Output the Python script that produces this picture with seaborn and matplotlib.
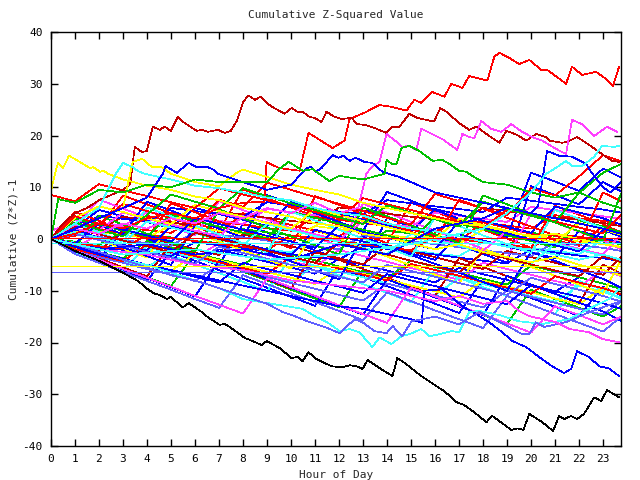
import matplotlib
matplotlib.use("Agg")
import matplotlib.pyplot as plt
import seaborn as sns

sns.set_style("white")
plt.rcParams['font.family'] = ['DejaVu Sans Mono', 'DejaVu Sans']

RED = '#ff0000'; GRN = '#00c000'; BLU = '#0000ff'; MAG = '#ff40ff'; CYN = '#40ffff'
DRD = '#c00000'; YEL = '#ffff00'; SLB = '#6060ff'; BLK = '#000000'

hours = list(range(24)) + [23.75]
x_ticks = list(range(24))
y_ticks = [-40, -30, -20, -10, 0, 10, 20, 30, 40]

# ---- tangle series, slow movers (hourly readings) ----
a1 = [0, 0.6, 2.8, 2.3, 1.7, 1.2, 3.9, 3.3, 2.8, 2.1, 1.6, 4.2, 3.7, 3.1, 2.5, 1.9, 1.4, 3.8, 3.2, 2.6, 2.0, 4.6, 4.0, 3.5, 2.9]
a2 = [0, -0.5, -1.1, 1.4, 0.9, 0.3, -0.3, -0.8, 1.9, 1.3, 0.7, 0.2, -0.4, -1.0, 1.6, 1.1, 0.5, -0.1, -0.6, -1.2, 1.2, 0.6, 0.1, -0.5, -1.0]
a3 = [1.5, 3.7, 3.1, 2.5, 5.2, 4.6, 4.0, 3.5, 2.9, 5.8, 5.2, 4.6, 4.1, 3.5, 2.9, 2.4, 5.1, 4.5, 3.9, 3.3, 6.2, 5.6, 5.0, 4.4, 3.9]
a4 = [0, -0.7, -1.3, -1.9, -2.4, 0.3, -0.3, -0.9, -1.4, -2.0, -2.6, 0.1, -0.5, -1.1, -1.6, -2.2, -2.8, -3.3, -0.6, -1.2, -1.7, -2.3, -2.9, -0.2, -0.8]
a5 = [0, 2.4, 1.8, 4.3, 3.7, 3.2, 2.6, 5.3, 4.7, 4.1, 3.5, 3.0, 6.1, 5.5, 4.9, 4.3, 3.8, 3.2, 6.0, 5.4, 4.8, 4.2, 3.7, 3.1, 2.5]
a6 = [0, 1.9, 1.4, 0.8, 0.2, 2.7, 2.1, 1.6, 1.0, 0.4, -0.1, 2.5, 1.9, 1.3, 0.8, 0.2, -0.4, -0.9, 1.8, 1.2, 0.7, 0.1, -0.5, -1.0, -1.6]
a7 = [0, -1.0, -1.6, -2.1, -2.7, -3.3, -0.6, -1.2, -1.8, -2.3, -2.9, -3.5, -4.0, -1.3, -1.9, -2.5, -3.0, -3.6, -4.2, -4.7, -2.0, -2.6, -3.2, -3.7, -4.3]
a8 = [0, 0.9, 0.4, -0.2, -0.8, -1.3, 1.4, 0.8, 0.3, -0.3, -0.9, -1.4, -2.0, 0.7, 0.1, -0.5, -1.0, -1.6, -2.2, -2.7, -3.3, -0.6, -1.2, -1.7, -2.3]
a9 = [0, -0.8, -1.4, -1.9, 0.8, 0.2, -0.4, -0.9, -1.5, -2.1, 0.7, 0.1, -0.5, -1.0, -1.6, -2.2, 0.6, 0.0, -0.6, -1.1, -1.7, 1.0, 0.4, -0.1, -0.7]
a10 = [0, 1.8, 4.5, 3.9, 3.3, 6.0, 5.4, 4.9, 4.3, 7.1, 6.5, 5.9, 5.3, 4.8, 7.5, 6.9, 6.3, 5.8, 5.2, 8.0, 7.4, 6.8, 6.2, 5.7, 5.1]

# ---- tangle series, medium movers ----
b1 = [0, -1.9, -3.0, -1.2, -2.4, -3.5, -4.7, -2.0, -3.2, -4.4, -5.5, -6.7, -3.8, -5.0, -6.1, -7.3, -8.4, -5.6, -6.8, -7.9, -9.1, -10.2, -7.4, -8.6, -9.7]
b2 = [0, 3.1, 2.0, 0.8, 4.5, 3.4, 2.2, 1.1, 5.0, 3.9, 2.7, 1.6, 0.4, 4.1, 3.0, 1.8, 0.7, -0.5, 3.3, 2.1, 1.0, -0.2, -1.3, 2.5, 1.4]
b3 = [0, -1.4, -2.6, -3.7, -0.4, -1.6, -2.7, -3.9, -5.0, -1.8, -3.0, -4.1, -5.3, -6.4, -7.6, -4.2, -5.4, -6.5, -7.7, -8.8, -5.1, -6.3, -7.4, -8.6, -9.7]
b4 = [0, 2.2, 5.6, 4.4, 3.3, 2.1, 6.0, 4.8, 3.7, 2.5, 7.2, 6.0, 4.9, 3.7, 2.6, 1.4, 5.8, 4.7, 3.5, 2.4, 1.2, 6.3, 5.1, 4.0, 2.8]
b5 = [0, -1.7, 0.9, -0.3, -1.4, -2.6, -3.7, -0.8, -2.0, -3.1, -4.3, -5.4, -2.1, -3.3, -4.4, -5.6, -6.7, -7.9, -4.6, -5.8, -6.9, -8.1, -9.2, -6.0, -7.2]
b6 = [0, -2.1, -3.2, -4.4, -5.5, -2.5, -3.7, -4.8, -6.0, -7.1, -8.3, -5.1, -6.3, -7.4, -8.6, -9.7, -10.9, -7.5, -8.7, -9.8, -11.0, -12.1, -9.0, -10.2, -11.3]
b7 = [0, -1.1, -2.3, 1.5, 0.3, -0.8, -2.0, -3.1, 0.9, -0.3, -1.4, -2.6, -3.7, -4.9, -1.2, -2.4, -3.5, -4.7, -5.8, -2.3, -3.5, -4.6, -5.8, -6.9, -3.5]
b8 = [0, -1.6, -2.8, -3.9, -5.1, -6.2, -2.9, -4.1, -5.2, -6.4, -7.5, -8.7, -5.5, -6.7, -7.8, -9.0, -10.1, -11.3, -8.0, -9.2, -10.3, -11.5, -12.6, -9.4, -10.6]
b9 = [0, -2.3, -3.5, -4.6, -5.8, -6.9, -8.1, -5.0, -6.2, -7.3, -8.5, -9.6, -10.8, -11.9, -8.6, -9.8, -10.9, -12.1, -13.2, -10.0, -11.2, -12.3, -13.5, -14.6, -12.1]
b10 = [0, 1.2, 0.1, -1.1, -2.2, 2.6, 1.4, 0.3, -0.9, -2.0, -3.2, 1.8, 0.6, -0.5, -1.7, -2.8, -4.0, 0.9, -0.3, -1.4, -2.6, -3.7, 1.5, 0.3, -0.8]
b11 = [0, -2.0, -3.1, -4.3, -1.0, -2.2, -3.3, -4.5, -5.6, -6.8, -3.4, -4.6, -5.7, -6.9, -8.0, -4.8, -6.0, -7.1, -8.3, -9.4, -10.6, -7.2, -8.4, -9.5, -10.7]
b12 = [0, 3.9, 2.8, 1.6, 0.5, 4.7, 3.5, 2.4, 1.2, 0.1, 5.3, 4.1, 3.0, 1.8, 0.7, -0.5, 4.2, 3.0, 1.9, 0.7, -0.4, -1.6, 3.6, 2.4, 1.3]
b13 = [0, -1.5, -2.7, -3.8, -5.0, -6.1, -7.3, -8.4, -4.6, -5.8, -6.9, -8.1, -9.2, -10.4, -6.8, -8.0, -9.1, -10.3, -11.4, -12.6, -8.9, -10.1, -11.2, -12.4, -13.5]
b14 = [0, 2.8, 1.7, 5.1, 3.9, 2.8, 1.6, 0.5, 4.4, 3.2, 2.1, 0.9, -0.2, 3.5, 2.3, 1.2, 0.0, -1.1, -2.3, 1.6, 0.4, -0.7, -1.9, -3.0, 0.8]
b15 = [0, 1.3, 0.2, -0.9, 3.4, 2.2, 1.1, -0.1, -1.2, 2.9, 1.7, 0.6, -0.6, -1.7, -2.9, 1.0, -0.2, -1.3, -2.5, -3.6, -4.8, -0.9, -2.1, -3.2, -4.4]
b16 = [0, -0.9, 3.0, 1.8, 0.7, -0.5, 4.1, 2.9, 1.8, 0.6, -0.5, -1.7, 2.6, 1.4, 0.3, -0.9, -2.0, 3.4, 2.2, 1.1, -0.1, -1.2, -2.4, 1.7, 0.5]
b17 = [0, 2.0, 0.9, -0.3, -1.4, -2.6, 1.2, 0.0, -1.1, -2.3, -3.4, -4.6, -0.7, -1.9, -3.0, -4.2, -5.3, -6.5, -2.6, -3.8, -4.9, -6.1, -7.2, -3.3, -4.5]
b18 = [0, 4.1, 6.3, 5.2, 4.0, 2.9, 6.6, 5.4, 4.3, 3.1, 2.0, 5.8, 4.6, 3.5, 2.3, 1.2, 0.0, 3.9, 2.7, 1.6, 0.4, -0.7, 3.1, 1.9, 0.8]
b19 = [0, 1.0, -0.2, -1.3, -2.5, -3.6, -4.8, -1.5, -2.7, -3.8, -5.0, -6.1, -7.3, -8.4, -5.0, -6.2, -7.3, -8.5, -9.6, -10.8, -7.5, -8.7, -9.8, -11.0, -12.1]
b20 = [8.5, 7.3, 10.6, 9.4, 8.3, 7.1, 6.0, 9.8, 8.6, 7.5, 6.3, 5.2, 4.0, 7.9, 6.7, 5.6, 4.4, 3.3, 2.1, 5.7, 4.5, 3.4, 2.2, 1.1, 4.6]

# ---- tangle series, fast movers ----
c1 = [0, -2.6, -4.2, 1.8, 0.1, -1.7, -3.4, -5.1, 3.0, 1.3, -0.4, -2.2, -3.9, -5.6, 4.1, 2.4, 0.6, -1.1, -2.9, -4.6, 10.2, 8.5, 6.7, 11.0, 9.2]
c2 = [0, -2.2, -3.9, -5.7, -7.4, -9.1, -2.8, -4.6, -6.3, -8.0, -9.8, -11.5, -13.2, -6.0, -7.7, -9.5, -11.2, -12.9, -14.7, -16.4, -9.8, -11.6, -13.3, -15.0, -13.0]
c3 = [0, 3.8, 2.1, 8.4, 6.7, 5.0, 3.2, 1.5, 9.6, 7.9, 6.1, 4.4, 2.7, 0.9, -0.8, 7.0, 5.3, 3.5, 1.8, 0.1, -1.7, 6.4, 4.7, 2.9, 1.2]
c4 = [0, -2.8, -4.5, -6.3, -8.0, -2.5, -4.2, -6.0, -7.7, -9.4, -11.2, -12.9, -5.6, -7.3, -9.1, -10.8, -12.5, -14.3, -7.9, -9.7, -11.4, -13.1, -14.9, -9.2, -10.9]
c5 = [0, 2.5, 7.6, 5.9, 4.1, 2.4, 0.7, 7.3, 5.6, 3.8, 2.1, 0.4, -1.4, 6.8, 5.1, 3.3, 1.6, -0.1, -1.9, -3.6, 4.9, 3.2, 1.4, -0.3, -2.0]
c6 = [0, -2.5, -4.3, -6.0, -1.4, -3.1, -4.9, -6.6, -8.3, -10.1, -3.5, -5.2, -7.0, -8.7, -10.4, -12.2, -5.8, -7.5, -9.3, -11.0, -12.7, -14.5, -8.1, -9.8, -11.6]
c7 = [0, 4.4, 2.7, 0.9, 7.2, 5.5, 3.7, 2.0, 0.3, 8.5, 6.8, 5.0, 3.3, 1.6, 9.1, 7.4, 5.6, 3.9, 2.2, 0.4, 12.8, 11.1, 9.3, 13.6, 11.9]
c8 = [0, -2.0, -3.7, -5.5, -7.2, -0.9, -2.6, -4.4, -6.1, -7.8, -9.6, -2.3, -4.0, -5.8, -7.5, -9.2, -11.0, -3.7, -5.4, -7.2, -8.9, -10.6, -12.4, -4.9, -6.7]
c9 = [0, 1.6, -0.1, -1.9, -3.6, 3.0, 1.3, -0.5, -2.2, -3.9, -5.7, 1.8, 0.1, -1.7, -3.4, -5.1, -6.9, -8.6, -1.9, -3.6, -5.4, -7.1, -8.8, -10.6, -4.0]
c10 = [0, -2.4, -4.1, -5.9, -7.6, -9.3, -11.1, -4.2, -5.9, -7.7, -9.4, -11.1, -12.9, -14.6, -7.8, -9.5, -11.3, -13.0, -14.7, -7.1, -8.8, -10.6, -12.3, -14.0, -15.8]
c11 = [0, 5.2, 3.5, 1.7, 0.0, 6.9, 5.2, 3.4, 1.7, 0.0, -1.8, 8.3, 6.6, 4.8, 3.1, 1.4, -0.4, 7.6, 5.9, 4.1, 2.4, 0.7, -1.1, 9.0, 7.3]
c12 = [0, -1.6, 4.5, 2.8, 1.0, -0.7, -2.4, 5.7, 4.0, 2.2, 0.5, -1.2, -3.0, 6.1, 4.4, 2.6, 0.9, -0.8, 8.4, 6.7, 4.9, 3.2, 1.5, -0.3, 8.8]
c13 = [0, -2.9, -4.6, -6.4, -8.1, -9.8, -11.6, -13.3, -7.0, -8.7, -10.5, -12.2, -13.9, -15.7, -10.3, -12.0, -13.8, -15.5, -17.2, -11.0, -12.7, -14.5, -16.2, -17.9, -15.0]
c14 = [0, 1.9, 0.2, -1.6, -3.3, -5.0, 2.6, 0.9, -0.9, -2.6, -4.3, -6.1, -7.8, 0.4, -1.3, -3.1, -4.8, -6.5, -8.3, -10.0, -2.5, -4.2, -6.0, -7.7, -9.4]
c15 = [0, -2.3, -4.0, -5.8, -7.5, -9.2, -11.0, -12.7, -14.4, -7.6, -9.3, -11.0, -12.8, -14.5, -16.2, -9.4, -11.1, -12.9, -14.6, -16.3, -18.1, -13.0, -14.7, -16.5, -15.0]
c16 = [0, 3.0, 1.3, -0.5, 6.1, 4.4, 2.6, 0.9, -0.8, -2.6, 5.3, 3.6, 1.8, 0.1, -1.6, -3.4, 4.2, 2.5, 0.7, -1.0, -2.7, 5.6, 3.9, 2.1, 0.4]

# ---- two series that climb at the right edge ----
e1 = [0, 4.4, 2.9, 6.8, 5.4, 4.0, 2.7, 7.6, 6.2, 10.9, 9.5, 8.1, 6.8, 5.4, 4.1, 2.8, 8.7, 7.3, 5.9, 4.6, 9.8, 8.4, 12.1, 16.2, 15.0]
e2 = [0, 3.2, 1.8, 0.5, 4.7, 8.6, 7.2, 5.9, 9.8, 8.3, 6.9, 5.6, 4.2, 2.9, 6.5, 5.1, 3.8, 2.4, 7.2, 5.8, 4.5, 3.2, 8.9, 12.8, 14.5]

tangle = [
    (c1, BLU), (a1, RED), (b1, BLU), (c2, GRN), (a2, GRN), (b2, RED), (c3, RED), (a3, MAG),
    (b3, GRN), (c4, BLU), (a4, CYN), (b4, BLU), (c5, MAG), (a5, DRD), (b5, MAG), (c6, CYN),
    (a6, YEL), (b6, CYN), (c7, BLU), (a7, BLU), (b7, DRD), (c8, DRD), (a8, SLB), (b8, YEL),
    (c9, YEL), (a9, RED), (b9, SLB), (c10, BLU), (a10, BLU), (b10, BLU), (c11, RED), (b11, RED),
    (c12, GRN), (b12, GRN), (c13, SLB), (b13, BLU), (c14, BLU), (b14, MAG), (c15, MAG), (b15, CYN),
    (c16, CYN), (b16, BLU), (b17, DRD), (b18, YEL), (b19, SLB), (b20, RED), (e1, RED), (e2, GRN),
]

# ---- distinct series (detailed readings) ----
red_top_x = [0, 1, 2, 3, 4, 5, 6, 7, 8, 8.9, 8.98, 9.5, 10.36, 10.73, 11.73, 12.23, 12.44, 13.06, 13.69, 14.23,
             14.81, 15.14, 15.43, 15.89, 16.39, 16.68, 17.14, 17.43, 18.18, 18.47, 18.68, 19.09, 19.51, 19.93,
             20.42, 20.67, 21.46, 21.71, 22.13, 22.71, 23.13, 23.42, 23.67]
red_top_y = [0, 1, 3, 2, 4, 5, 4, 6, 7, 7.2, 14.9, 13.7, 13.2, 20.5, 17.6, 19.0, 23.2, 24.4, 25.9, 25.5,
             24.8, 26.9, 26.3, 28.4, 27.5, 30.0, 29.2, 31.5, 30.6, 35.2, 36.0, 35.0, 33.8, 34.6,
             32.7, 32.7, 30.0, 33.3, 31.7, 32.3, 30.9, 29.6, 33.3]

drd_top_x = [0, 0.5, 1, 1.5, 2, 2.5, 3, 3.3, 3.49, 3.79, 3.99, 4.24, 4.53, 4.74, 4.99, 5.28, 5.57, 6.07, 6.28,
             6.53, 6.95, 7.24, 7.49, 7.74, 8.03, 8.24, 8.49, 8.74, 9.03, 9.23, 9.73, 10.02, 10.27, 10.48,
             10.77, 10.98, 11.27, 11.48, 11.81, 12.1, 12.52, 12.77, 13.14, 13.56, 13.98, 14.23, 14.52, 14.93,
             15.27, 15.85, 15.97, 16.22, 16.47, 17.01, 17.43, 17.72, 18.14, 18.68, 18.97, 19.43, 19.8, 20.22,
             20.63, 20.76, 21.3, 21.51, 21.92, 22.42, 22.96, 23.38, 23.67]
drd_top_y = [0, 3, 5, 6, 7.5, 8.5, 9.5, 10.6, 17.8, 16.8, 17.0, 21.7, 21.1, 21.7, 20.9, 23.6, 22.4, 20.9, 21.1,
             20.7, 21.1, 20.5, 20.9, 22.8, 26.7, 27.7, 26.9, 27.5, 26.1, 25.5, 24.2, 25.3, 24.6, 24.6,
             23.6, 23.4, 22.6, 24.6, 23.6, 23.2, 23.4, 22.2, 22.0, 21.3, 20.5, 21.7, 21.7, 24.2,
             23.4, 22.8, 22.8, 25.3, 24.6, 22.4, 21.1, 21.7, 20.3, 18.6, 20.9, 20.1, 19.0, 20.3,
             19.7, 19.0, 18.6, 18.8, 19.7, 18.2, 16.4, 15.1, 14.9]

mag_top_x = [0, 1, 2, 3, 4, 5, 6, 7, 8, 9, 10, 11, 12, 12.8, 13.14, 13.35, 13.69, 13.98, 14.39, 14.64, 14.93,
             15.22, 15.43, 16.31, 16.93, 17.14, 17.43, 17.64, 17.93, 18.34, 18.76, 19.18, 19.63, 20.05,
             20.47, 21.05, 21.46, 21.71, 22.13, 22.63, 23.17, 23.59]
mag_top_y = [0, 2, 1, 3, 2, 4, 3, 5, 4, 6, 5, 7, 5, 6, 12.6, 13.9, 14.9, 20.3, 18.8, 17.8, 18.0,
             17.2, 21.3, 19.3, 17.2, 20.3, 19.7, 19.5, 22.8, 21.3, 20.7, 22.2, 20.7, 19.7,
             19.0, 17.4, 16.4, 23.0, 22.2, 19.9, 21.7, 20.7]

blk_x = [0, 1.0, 2.04, 2.87, 3.62, 4.03, 4.33, 4.53, 4.83, 4.99, 5.49, 5.74, 6.28, 6.53, 7.03, 7.24, 7.45,
         8.07, 8.28, 8.78, 8.99, 9.53, 10.02, 10.27, 10.48, 10.73, 11.06, 11.69, 12.15, 12.44, 12.73, 12.98,
         13.19, 13.81, 14.23, 14.43, 14.81, 15.43, 16.18, 16.39, 16.89, 17.22, 17.64, 18.14, 18.39, 19.18,
         19.43, 19.68, 19.93, 20.47, 20.92, 21.17, 21.38, 21.67, 21.92, 22.21, 22.63, 22.92, 23.17, 23.38, 23.67]
blk_y = [0, -2.3, -4.3, -6.2, -8.1, -9.7, -10.6, -10.8, -11.6, -11.2, -13.2, -12.4, -14.1, -15.1, -16.6, -16.4, -17.0,
         -19.1, -19.5, -20.5, -19.7, -21.1, -23.0, -22.8, -23.6, -21.9, -23.2, -24.6, -24.8, -24.4, -24.6, -25.1,
         -23.4, -25.3, -26.5, -23.0, -24.2, -26.5, -28.8, -29.4, -31.5, -32.1, -33.5, -35.4, -34.2, -36.9,
         -36.6, -36.9, -33.8, -35.4, -37.1, -34.2, -34.8, -34.2, -34.8, -33.8, -30.6, -31.3, -29.2, -29.8, -30.6]

blu_low_x = [0, 1, 2, 3, 4, 5, 6, 7, 8, 9, 10, 11, 12, 13, 14, 15, 15.45, 15.55, 16.3, 17.14, 17.72, 18.26,
             18.8, 19.22, 19.8, 20.34, 20.88, 21.38, 21.67, 21.92, 22.42, 22.84, 23.25, 23.67]
blu_low_y = [0, -1.5, -3, -4, -5, -6, -7, -8, -9, -10, -11, -12, -13, -13.5, -14.5, -15.5, -16.2, -10, -9.7, -13.0,
             -14.5, -16.1, -18.0, -19.7, -20.9, -22.8, -24.6, -25.9, -25.1, -21.7, -22.8, -24.6, -25.0, -26.5]

cyn_low_x = [0, 1, 2, 3, 4, 5, 6, 7, 7.99, 10.48, 11.06, 11.52, 12.02, 12.44, 12.85, 13.39, 13.69, 14.18, 14.6,
             14.93, 15.43, 15.77, 16.18, 16.68, 17.01, 17.43, 17.85, 18.68, 19.5, 20.5, 21.6, 22.4, 23.25, 23.67]
cyn_low_y = [0, -1, -2.5, -4, -5, -6.5, -8, -9.5, -11.6, -13.5, -15.1, -16.1, -17.8, -17.4, -18.0, -20.9, -19.0,
             -20.3, -18.8, -18.4, -17.4, -18.8, -18.4, -17.8, -18.0, -14.1, -13.9, -14.7, -15.9, -16.4, -15.5,
             -13.5, -11.6, -9.7]

slb_low_x = [0, 1, 2, 3, 4, 5, 6, 7, 8, 9, 9.65, 10.15, 10.69, 11.52, 12.02, 12.65, 12.98, 13.48, 13.98, 14.23,
             14.64, 15.02, 16, 17, 17.85, 19.1, 19.63, 19.93, 20.2, 20.55, 21.5, 22.5, 23.75]
slb_low_y = [0, -1, -2.5, -4, -5.5, -7, -8, -9.5, -11, -12.5, -14.1, -14.9, -15.9, -17.2, -18.2, -15.5, -16.1,
             -17.8, -18.2, -16.8, -18.8, -15.9, -15, -16.5, -14.1, -17.0, -18.4, -18.4, -16.1, -17.0, -16, -14, -12]

mag_low_x = [0, 2, 4, 6, 8, 10, 12, 14, 16, 17, 18, 19, 19.5, 19.93, 21.05, 21.6, 22.4, 22.96, 23.38, 23.67]
mag_low_y = [0, -2, -3, -5, -6, -8, -9, -10, -12, -11, -12.5, -12, -13.9, -14.9, -16.1, -17.4, -18.0, -19.3, -19.7, -19.9]

yel_top_x = [0, 0.17, 0.29, 0.5, 0.75, 1.12, 1.62, 1.75, 2.04, 2.2, 2.37, 3, 4, 5, 6, 7, 8, 9, 10, 11, 12, 13,
             14, 15, 16, 17, 18, 19, 20, 21, 22, 23, 23.75]
yel_top_y = [9.3, 12.6, 14.7, 13.7, 16.1, 15.1, 13.7, 13.9, 13.0, 13.2, 12.6, 11.5, 10.3, 9.5, 8.2, 7.5, 6.0,
             5.2, 4.3, 3.0, 2.5, 1.0, 0.3, -0.8, -2, -1, -2.5, -3.5, -4.5, -3.5, -5, -6, -7]

yel_two_x = [0, 1, 2, 3, 3.4, 3.8, 4.2, 4.6, 5, 6, 7, 7.8, 8, 9, 10, 11, 12, 13, 14, 15, 16, 17, 18, 19, 20,
             21, 22, 23, 23.75]
yel_two_y = [0, 2, 4, 6, 14.9, 15.5, 13.9, 13.9, 12.6, 11.0, 10.2, 13.0, 13.4, 12, 10.5, 9.5, 8.6, 7, 6, 5, 4,
             3, 2.5, 1.5, 0.5, 1, 0, -1, -1.5]

cyn_top_x = [0, 1, 2, 2.7, 3.0, 3.4, 3.6, 3.9, 5, 6, 7, 8, 9, 10, 11, 12, 13, 14, 15, 16, 17, 18, 19, 20, 21,
             22, 23, 23.75]
cyn_top_y = [0, 3, 6, 12.6, 14.7, 13.9, 13.2, 12.6, 11.5, 10.3, 9.8, 9, 8, 7.5, 6, 5, 4.5, 3, 2, 1.5, 0.5,
             -0.5, -1.5, -2, -3, -4, -3, -4]

blu_top_x = [0, 1, 2, 3, 4, 4.66, 4.78, 5.24, 5.74, 6.07, 6.53, 6.82, 6.95, 8, 9, 10, 10.44, 10.65, 10.82,
             11.02, 11.27, 11.73, 11.98, 12.19, 12.44, 12.69, 13.06, 13.39, 13.81, 14.5, 15, 16, 17, 18, 19,
             20, 21, 22, 23, 23.75]
blu_top_y = [0, 2, 4, 6, 8, 12.6, 14.1, 12.8, 14.7, 13.9, 13.9, 13.3, 12.6, 11, 9.5, 10.5, 12.6, 13.7, 13.9,
             13.0, 13.7, 16.2, 15.7, 16.1, 15.1, 15.7, 14.9, 14.7, 13.0, 12, 11, 9, 8, 7, 6, 5, 4, 3, 2, 1]

blu_jump_x = [0, 2, 4, 6, 8, 10, 12, 14, 16, 18, 19, 20, 20.3, 20.67, 21.17, 21.7, 22.3, 22.5, 23.0, 23.3, 23.75]
blu_jump_y = [0, -2, -1, -3, -2, -4, -1, -3, 2, 4, 6, 5, 6.5, 17.0, 16.1, 15.9, 14.5, 13.0, 10, 9, 11]

grn_top_x = [0, 0.3, 1, 2, 3, 4, 5, 6, 7, 7.9, 9.0, 9.5, 9.9, 10.5, 10.9, 11.6, 12.0, 13.0, 13.9, 13.98, 14.2,
             14.4, 14.6, 14.93, 15.35, 15.9, 16.3, 16.6, 17.0, 17.3, 17.55, 18, 19, 20, 21, 22, 23, 23.75]
grn_top_y = [0, 7.7, 7, 9.5, 9, 10.5, 10, 11.5, 11, 11, 11, 13.5, 14.9, 13.2, 13.5, 11.2, 12.2, 11.5, 12.6,
             15.3, 14.5, 14.5, 17.6, 18.0, 17.0, 15.1, 15.3, 14.5, 13.2, 13.0, 12.2, 11, 10.5, 9, 8, 9, 7, 6]

cyn_right_x = [0, 3, 6, 9, 12, 15, 18, 19, 20, 20.63, 21.09, 21.46, 21.71, 22.13, 22.63, 22.96, 23.46, 23.67]
cyn_right_y = [0, -3, -2, -4, -3, -1, 2, 5, 9, 12.6, 13.9, 15.1, 14.1, 14.1, 15.9, 18.0, 17.8, 18.0]

flat_x = [0, 23.75]
flat_red = [0.2, 0.2]
flat_cyn = [-0.8, -0.8]
flat_yel = [-5.3, -5.3]
flat_slb = [-6.4, -6.4]

distinct = [
    (red_top_x, red_top_y, RED), (drd_top_x, drd_top_y, DRD), (mag_top_x, mag_top_y, MAG),
    (blu_low_x, blu_low_y, BLU), (cyn_low_x, cyn_low_y, CYN), (slb_low_x, slb_low_y, SLB),
    (mag_low_x, mag_low_y, MAG), (yel_top_x, yel_top_y, YEL), (yel_two_x, yel_two_y, YEL),
    (cyn_top_x, cyn_top_y, CYN), (blu_top_x, blu_top_y, BLU), (blu_jump_x, blu_jump_y, BLU),
    (grn_top_x, grn_top_y, GRN), (cyn_right_x, cyn_right_y, CYN),
    (flat_x, flat_red, RED), (flat_x, flat_cyn, CYN), (flat_x, flat_yel, YEL), (flat_x, flat_slb, SLB),
    (blk_x, blk_y, BLK),
]

fig = plt.figure(figsize=(6.4, 4.8), dpi=100)
ax = fig.add_axes([51 / 640, 1 - 446 / 480, 570 / 640, 414 / 480])

lw = 0.5
for vals, col in tangle:
    sns.lineplot(x=hours, y=vals, color=col, lw=lw, ax=ax, estimator=None, sort=False,
                 legend=False, antialiased=False)
for xs, ys, col in distinct:
    sns.lineplot(x=xs, y=ys, color=col, lw=lw, ax=ax, estimator=None, sort=False,
                 legend=False, antialiased=False)

ax.set_xlim(0, 23.75)
ax.set_ylim(-40, 40)
ax.set_xticks(x_ticks)
ax.set_yticks(y_ticks)
ax.set_xticklabels([str(v) for v in x_ticks])
ax.set_yticklabels([str(v) for v in y_ticks])
ax.tick_params(direction='in', length=5, width=1, colors='black', labelsize=8,
               top=True, right=True, bottom=True, left=True)
ax.tick_params(axis='x', pad=6)
ax.tick_params(axis='y', pad=6)
for sp in ax.spines.values():
    sp.set_color('black')
    sp.set_linewidth(1)
    sp.set_visible(True)
ax.set_title('Cumulative Z-Squared Value', fontsize=8, pad=10)
ax.set_xlabel('Hour of Day', fontsize=8, labelpad=4)
ax.set_ylabel('Cumulative (Z*Z)-1', fontsize=8, labelpad=3)
ax.grid(False)

fig.savefig('out.png', dpi=100)
